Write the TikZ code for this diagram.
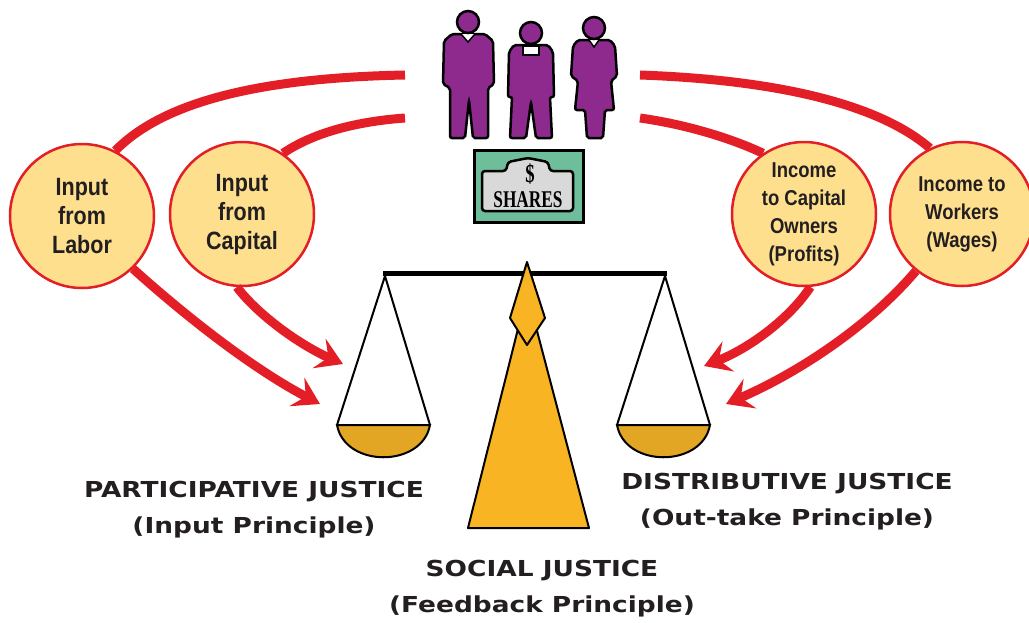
\documentclass[tikz,border=0pt]{standalone}
\usepackage{fontspec}
\usetikzlibrary{arrows.meta}

\newfontfamily\circfont[FakeStretch=0.86]{Liberation Sans}
\newfontfamily\labelfont[FakeStretch=1.2]{DejaVu Sans}
\newfontfamily\sharefont[FakeStretch=0.72]{Liberation Serif}

\definecolor{jred}{HTML}{E41E26}
\definecolor{jpale}{HTML}{FDDF8E}
\definecolor{pangold}{HTML}{E2A624}
\definecolor{standgold}{HTML}{F9B424}
\definecolor{jpurple}{HTML}{8E2A8E}
\definecolor{sharegreen}{HTML}{6FBE9B}
\definecolor{sharegray}{HTML}{D9D9D9}
\definecolor{jtext}{HTML}{231F20}

\tikzset{
  fund/.style={circle, draw=jred, line width=2.5pt, fill=jpale, minimum size=144pt,
    inner sep=0pt, align=center, text=jtext},
  flow/.style={jred, line width=9pt},
  flowtip/.style={flow, -{Stealth[length=26pt, width=32pt, inset=10pt]}},
  person/.style={fill=jpurple, draw=black, line width=2.5pt, rounded corners=2pt},
  justice/.style={align=center, text=jtext, font=\labelfont\bfseries\fontsize{22}{36}\selectfont},
}

\begin{document}
\begin{tikzpicture}[x=1pt, y=-1pt]
	\useasboundingbox (0,0) rectangle (1029,622);

	% the four circles
	\node[fund, font=\circfont\bfseries\fontsize{25}{29}\selectfont] (labor) at (82,216) {Input\\from\\Labor};
	\node[fund, font=\circfont\bfseries\fontsize{25}{29}\selectfont] (capital) at (242,214) {Input\\from\\Capital};
	\node[fund, font=\circfont\bfseries\fontsize{21.5}{28}\selectfont] (profits) at (804,214) {Income\\to Capital\\Owners\\(Profits)};
	\node[fund, font=\circfont\bfseries\fontsize{21.5}{28}\selectfont] (wages) at (962,214) {Income to\\Workers\\(Wages)};

	% loose ends of the red flows
	\coordinate (labtop) at (405,75);
	\coordinate (captop) at (405,118);
	\coordinate (wagtop) at (640,75);
	\coordinate (protop) at (640,118);
	\coordinate (labtip) at (320,404);
	\coordinate (captip) at (343,364);
	\coordinate (wagtip) at (726,404);
	\coordinate (protip) at (704,366);

	\draw[flow] (labtop) .. controls (250,78) and (160,105) .. (labor.63);
	\draw[flow] (captop) .. controls (350,122) and (310,135) .. (capital.56);
	\draw[flow] (wagtop) .. controls (780,80) and (880,105) .. (wages.116);
	\draw[flow] (protop) .. controls (690,125) and (735,140) .. (profits.124);

	\draw[flowtip] (labor.-46) .. controls (190,320) and (255,370) .. (labtip);
	\draw[flowtip] (capital.-94) .. controls (258,315) and (300,345) .. (captip);
	\draw[flowtip] (wages.231) .. controls (870,325) and (800,372) .. (wagtip);
	\draw[flowtip] (profits.275) .. controls (790,318) and (750,348) .. (protip);

	% scale: strings, pans, beam
	\draw[line width=2pt] (337,425) -- (385,276) -- (430,425);
	\draw[line width=2pt] (617,425) -- (665,276) -- (710,425);
	\draw[line width=2pt, fill=pangold] (337,425) .. controls (345,468) and (422,468) .. (430,425) -- cycle;
	\draw[line width=2pt, fill=pangold] (617,425) .. controls (625,468) and (702,468) .. (710,425) -- cycle;
	\draw[line width=5pt] (383,273) -- (667,273);

	% stand and pointer
	\draw[line width=2pt, fill=standgold, line join=round] (468,528) -- (589,528) -- (527,293) -- cycle;
	\draw[line width=2pt, fill=standgold, line join=round] (527,262) -- (545,318) -- (527,345) -- (510,318) -- cycle;

	% people
	\draw[person] (452,34) -- (485,34) -- (493,41) -- (494,84) -- (488,88) -- (488,138) -- (473,138)
		-- (469,100) -- (465,138) -- (450,138) -- (450,88) -- (443,84) -- (444,41) -- cycle;
	\draw[fill=white, draw=black, line width=1.5pt] (461,34) -- (468,42) -- (475,34);
	\draw[fill=jpurple, draw=black, line width=2.5pt] (468,22) circle[radius=11];

	\draw[person] (514,45) -- (548,45) -- (553,52) -- (554,97) -- (550,97) -- (552,138) -- (536,138)
		-- (531,102) -- (526,138) -- (510,138) -- (512,97) -- (508,97) -- (509,52) -- cycle;
	\draw[fill=white, draw=black, line width=1.5pt] (523,46) rectangle (539,55);
	\draw[fill=jpurple, draw=black, line width=2.5pt] (531,33) circle[radius=11];

	\draw[person] (578,40) -- (610,40) -- (615,46) -- (617,76) -- (611,81) -- (614,110) -- (605,110)
		-- (603,138) -- (587,138) -- (585,110) -- (575,110) -- (578,81) -- (571,76) -- (573,46) -- cycle;
	\draw[fill=white, draw=black, line width=1.5pt] (589,40) -- (594,47) -- (599,40);
	\draw[fill=jpurple, draw=black, line width=2.5pt] (594,28) circle[radius=11];

	% share certificate
	\draw[fill=sharegreen, line width=3pt] (474,150) rectangle (583,222);
	\draw[fill=sharegray, line width=2.5pt, rounded corners=3pt] (482,211) -- (482,171) -- (506,171)
		-- (508,162) -- (528,158) -- (548,162) -- (550,171) -- (573,171) -- (573,211) -- cycle;
	\node[font=\sharefont\bfseries\fontsize{26}{26}\selectfont, inner sep=0pt] (dollar) at (530,174) {\$};
	\node[font=\sharefont\bfseries\fontsize{24}{24}\selectfont, inner sep=0pt, anchor=base] (shares) at (528,207) {SHARES};

	% captions
	\node[justice] (participative) at (254,510) {PARTICIPATIVE JUSTICE\\(Input Principle)};
	\node[justice] (distributive) at (787,502) {DISTRIBUTIVE JUSTICE\\(Out-take Principle)};
	\node[justice] (social) at (542,589) {SOCIAL JUSTICE\\(Feedback Principle)};
\end{tikzpicture}
\end{document}
